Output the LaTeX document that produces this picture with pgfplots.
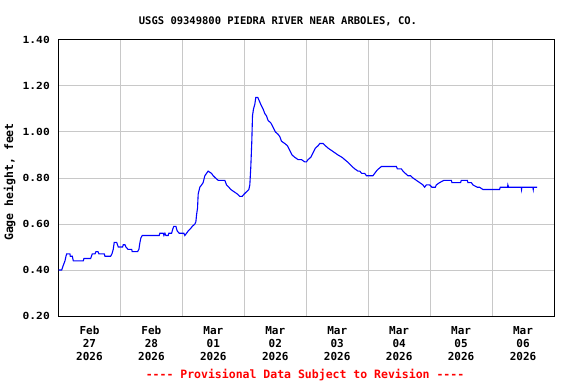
\documentclass[border=0pt]{standalone}
\usepackage{fontspec}
\setmainfont{DejaVu Sans Mono}
\newfontfamily\widefont{DejaVu Sans Mono}[FakeStretch=1.15]
\usepackage{pgfplots}
\pgfplotsset{compat=1.18}
\definecolor{gridgray}{RGB}{200,200,200}
\definecolor{usgsblue}{RGB}{0,0,255}
\newcommand{\dashes}{-\kern0pt-\kern0pt-\kern0pt-}
\begin{document}
\begin{tikzpicture}[x=1bp,y=1bp]
\useasboundingbox (0,0) rectangle (576,384);
\begin{axis}[
  at={(58.5bp,68bp)}, anchor=south west,
  scale only axis, width=495.5bp, height=276bp,
  xmin=0, xmax=8, ymin=0.2, ymax=1.4,
  xtick={0.5,1.5,2.5,3.5,4.5,5.5,6.5,7.5},
  xticklabels={{Feb\\27\\2026},{Feb\\28\\2026},{Mar\\01\\2026},{Mar\\02\\2026},{Mar\\03\\2026},{Mar\\04\\2026},{Mar\\05\\2026},{Mar\\06\\2026}},
  minor xtick={1,2,3,4,5,6,7},
  xminorgrids=true, xmajorgrids=false,
  ytick={0.2,0.4,0.6,0.8,1.0,1.2,1.4},
  ymajorgrids=true,
  major tick length=0pt, minor tick length=0pt,
  grid style={gridgray, line width=1bp},
  minor grid style={gridgray, line width=1bp},
  axis line style={black, line width=1bp},
  /pgf/number format/assume math mode=true,
  yticklabel style={font=\widefont\bfseries\fontsize{9.8bp}{11bp}\selectfont, inner sep=0pt, anchor=east, xshift=-8.5bp,
    /pgf/number format/fixed, /pgf/number format/fixed zerofill, /pgf/number format/precision=2},
  xticklabel style={font=\bfseries\fontsize{11bp}{13bp}\selectfont, align=center, inner sep=0pt, anchor=north, yshift=-10bp},
]
\addplot[usgsblue, line width=1.1bp] coordinates {
(0,0.40) (0.052,0.40) (0.077,0.42) (0.105,0.44) (0.121,0.46) (0.132,0.47) (0.185,0.47) (0.190,0.46)
(0.223,0.46) (0.239,0.44) (0.400,0.44) (0.411,0.45) (0.519,0.45) (0.532,0.46) (0.545,0.47) (0.589,0.47)
(0.605,0.48) (0.637,0.48) (0.653,0.47) (0.739,0.47) (0.750,0.46) (0.842,0.46) (0.863,0.47) (0.884,0.49)
(0.900,0.52) (0.939,0.52) (0.965,0.50) (1.035,0.50) (1.045,0.51) (1.073,0.51) (1.089,0.50) (1.121,0.49)
(1.181,0.49) (1.190,0.48) (1.277,0.48) (1.298,0.49) (1.315,0.52) (1.331,0.54) (1.352,0.55) (1.626,0.55)
(1.637,0.56) (1.690,0.56) (1.702,0.55) (1.718,0.56) (1.734,0.55) (1.771,0.55) (1.782,0.56) (1.826,0.56)
(1.847,0.58) (1.863,0.59) (1.895,0.59) (1.916,0.57) (1.948,0.56) (2.024,0.56) (2.040,0.55) (2.068,0.56)
(2.094,0.57) (2.132,0.58) (2.161,0.59) (2.202,0.60) (2.218,0.61) (2.229,0.64) (2.245,0.67) (2.255,0.73)
(2.282,0.76) (2.310,0.77) (2.335,0.78) (2.363,0.81) (2.390,0.82) (2.416,0.83) (2.471,0.82) (2.497,0.81)
(2.535,0.80) (2.577,0.79) (2.685,0.79) (2.713,0.77) (2.750,0.76) (2.782,0.75) (2.835,0.74) (2.890,0.73)
(2.927,0.72) (2.965,0.72) (2.997,0.73) (3.035,0.74) (3.073,0.75) (3.089,0.77) (3.105,0.85) (3.121,0.96)
(3.132,1.07) (3.148,1.10) (3.169,1.12) (3.185,1.15) (3.218,1.15) (3.234,1.14) (3.266,1.12) (3.303,1.10)
(3.331,1.08) (3.358,1.07) (3.384,1.05) (3.427,1.04) (3.465,1.02) (3.503,1.00) (3.545,0.99) (3.573,0.98)
(3.600,0.96) (3.653,0.95) (3.697,0.94) (3.734,0.92) (3.771,0.90) (3.815,0.89) (3.868,0.88) (3.923,0.88)
(3.976,0.87) (4.003,0.87) (4.029,0.88) (4.073,0.89) (4.110,0.91) (4.148,0.93) (4.190,0.94) (4.218,0.95)
(4.271,0.95) (4.310,0.94) (4.352,0.93) (4.406,0.92) (4.460,0.91) (4.513,0.90) (4.577,0.89) (4.621,0.88)
(4.665,0.87) (4.702,0.86) (4.739,0.85) (4.782,0.84) (4.835,0.83) (4.863,0.83) (4.895,0.82) (4.944,0.82)
(4.971,0.81) (5.077,0.81) (5.105,0.82) (5.132,0.83) (5.169,0.84) (5.213,0.85) (5.455,0.85) (5.471,0.84)
(5.535,0.84) (5.561,0.83) (5.600,0.82) (5.642,0.81) (5.685,0.81) (5.723,0.80) (5.777,0.79) (5.831,0.78)
(5.884,0.77) (5.911,0.76) (5.939,0.77) (5.992,0.77) (6.029,0.76) (6.084,0.76) (6.100,0.77) (6.153,0.78)
(6.223,0.79) (6.342,0.79) (6.352,0.78) (6.492,0.78) (6.503,0.79) (6.600,0.79) (6.610,0.78) (6.665,0.78)
(6.690,0.77) (6.761,0.76) (6.798,0.76) (6.852,0.75) (7.121,0.75) (7.132,0.76) (7.250,0.76) (7.255,0.77)
(7.266,0.76) (7.471,0.76) (7.476,0.75) (7.481,0.76) (7.658,0.76) (7.665,0.75) (7.669,0.76) (7.729,0.76)
};
\end{axis}
\node[font=\bfseries\fontsize{10.5bp}{12bp}\selectfont, anchor=base, inner sep=0pt] at (278,360) {USGS 09349800 PIEDRA RIVER NEAR ARBOLES, CO.};
\node[font=\bfseries\fontsize{11.5bp}{13bp}\selectfont, anchor=base, inner sep=0pt, text=red] at (305,5.7) {\dashes{} Provisional Data Subject to Revision \dashes};
\node[font=\bfseries\fontsize{11.5bp}{13bp}\selectfont, anchor=base, inner sep=0pt, rotate=90] at (13,202) {Gage height, feet};
\end{tikzpicture}
\end{document}
